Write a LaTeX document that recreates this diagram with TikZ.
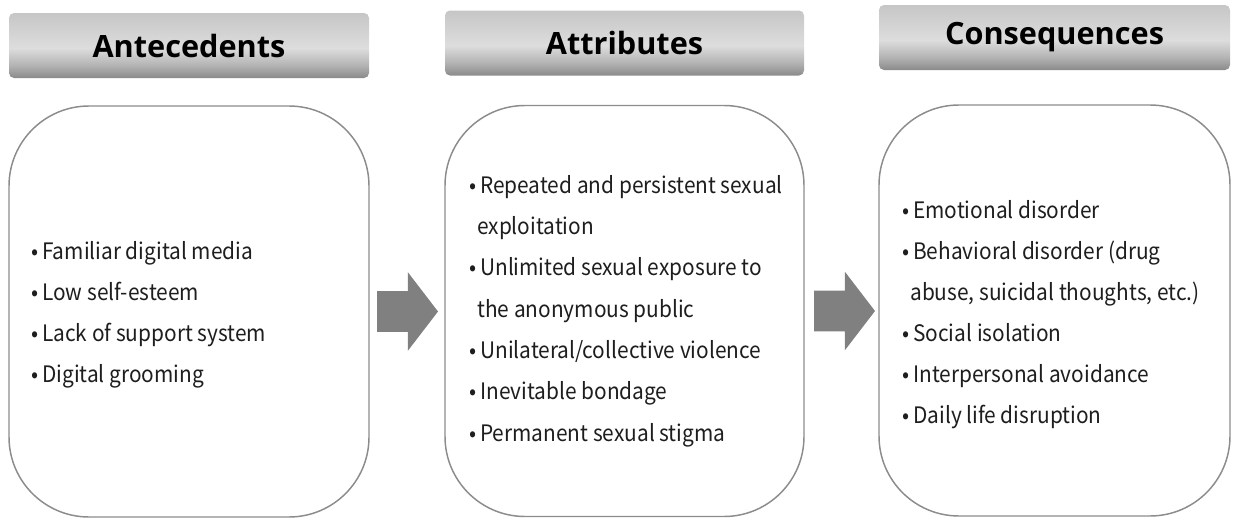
\documentclass[tikz,border=0pt]{standalone}
\usepackage{fontspec}
\setmainfont{Noto Sans CJK KR}[FakeStretch=0.92]
\newfontfamily\headfont{Open Sans}
\usetikzlibrary{positioning, shapes.arrows}
\newdimen\pxu
\pxu=0.75pt
\definecolor{frame}{HTML}{8C8C8C}
\definecolor{arrowgray}{HTML}{808080}
\definecolor{ink}{HTML}{1E1E1E}
\definecolor{hbot}{HTML}{8A8A8A}
\definecolor{hlow}{HTML}{B4B4B4}
\definecolor{hmid}{HTML}{DDDDDD}
\definecolor{htop}{HTML}{C6C6C6}
\pgfdeclareverticalshading{headshade}{100bp}{color(0bp)=(hbot); color(25bp)=(hbot); color(35bp)=(hlow); color(48bp)=(hmid); color(75bp)=(htop); color(100bp)=(htop)}
\newcommand\blt{\llap{•\hspace{3pt}}}
\tikzset{%
   head/.style={
      rectangle,
      rounded corners=5\pxu,
      shade,
      shading=headshade,
      minimum height=65\pxu,
      inner sep=0pt,
      text=black,
      font=\headfont\bfseries\fontsize{23}{26}\selectfont
   },
   panel/.style={
      rectangle,
      draw=frame,
      line width=1.1pt,
      rounded corners=60pt,
      fill=white,
      minimum height=411\pxu
   },
   item/.style={
      anchor=base west,
      inner sep=0pt,
      text=ink,
      font=\fontsize{17}{20}\selectfont
   },
   flow/.style={
      single arrow,
      single arrow tip angle=105,
      single arrow head extend=19\pxu,
      minimum height=61\pxu,
      inner xsep=0pt,
      inner ysep=20\pxu,
      fill=arrowgray,
      anchor=west
   },
}

\begin{document}
\begin{tikzpicture}[x=0.75pt, y=-0.75pt]
   \useasboundingbox (0,0) rectangle (1239,518);
   % headers
   \node[head, minimum width=360\pxu] (anteHead) at (189,45.5) {Antecedents};
   \node[head, minimum width=359\pxu] (attrHead) at (624.5,43) {Attributes};
   \node[head, minimum width=351\pxu] (consHead) at (1054.5,37.5) {Consequences};
   % panels
   \node[panel, minimum width=360\pxu, below=27\pxu of anteHead] (anteBox) {};
   \node[panel, minimum width=359\pxu, below=29\pxu of attrHead] (attrBox) {};
   \node[panel, minimum width=351\pxu, below=34\pxu of consHead] (consBox) {};
   % arrows
   \node[flow, right=7\pxu of anteBox] (arrA) {};
   \node[flow, right=9\pxu of attrBox] (arrB) {};
   % lists
   \foreach \xx/\yy/\txt [count=\i] in {%
      42/259/{\blt Familiar digital media},
      42/300/{\blt Low self-esteem},
      42/341/{\blt Lack of support system},
      42/382/{\blt Digital grooming}}
      \node[item] (ante-\i) at (\xx,\yy) {\txt};
   \foreach \xx/\yy/\txt [count=\i] in {%
      480/193/{\blt Repeated and persistent sexual},
      477/234/{exploitation},
      480/275/{\blt Unlimited sexual exposure to},
      477/317/{the anonymous public},
      480/358/{\blt Unilateral/collective violence},
      480/399/{\blt Inevitable bondage},
      480/441/{\blt Permanent sexual stigma}}
      \node[item] (attr-\i) at (\xx,\yy) {\txt};
   \foreach \xx/\yy/\txt [count=\i] in {%
      913/218/{\blt Emotional disorder},
      913/259/{\blt Behavioral disorder (drug},
      910/300/{abuse, suicidal thoughts, etc.)},
      913/341/{\blt Social isolation},
      913/382/{\blt Interpersonal avoidance},
      913/423/{\blt Daily life disruption}}
      \node[item] (cons-\i) at (\xx,\yy) {\txt};
\end{tikzpicture}
\end{document}
